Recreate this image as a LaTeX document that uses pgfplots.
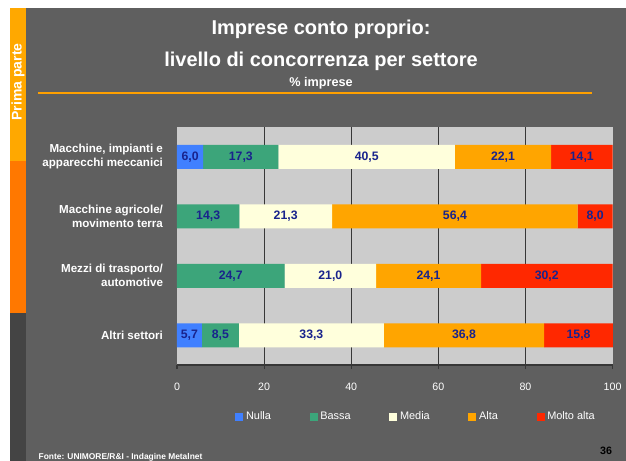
\documentclass[border=0pt]{standalone}
\usepackage{pgfplots}
\pgfplotsset{compat=1.18}
\usepackage{pgfplotstable}
\usepackage{fontspec}
\setmainfont{Liberation Sans}
\definecolor{slidebg}{RGB}{95,95,95}
\definecolor{stripA}{RGB}{255,168,0}
\definecolor{stripB}{RGB}{255,120,0}
\definecolor{stripC}{RGB}{68,68,68}
\definecolor{plotbg}{RGB}{204,204,204}
\definecolor{cNulla}{RGB}{64,128,255}
\definecolor{cBassa}{RGB}{60,165,122}
\definecolor{cMedia}{RGB}{255,255,220}
\definecolor{cAlta}{RGB}{255,165,0}
\definecolor{cMolto}{RGB}{255,40,0}
\definecolor{valblue}{RGB}{25,35,140}
\definecolor{linecol}{RGB}{255,160,0}
\definecolor{gridcol}{RGB}{55,55,55}

\pgfplotstableread{
y Nulla Bassa Media Alta Molto
0 6.0 17.3 40.5 22.1 14.1
1 0 14.3 21.3 56.4 8.0
2 0 24.7 21.0 24.1 30.2
3 5.7 8.5 33.3 36.8 15.8
}\data

\begin{document}
\begin{tikzpicture}[x=0.75pt,y=0.75pt]
\useasboundingbox (0,0) rectangle (626,461);
\fill[white] (0,0) rectangle (626,461);
\fill[slidebg] (26,0) rectangle (626,453);
\fill[stripA] (10,300) rectangle (26,453);
\fill[stripB] (10,148) rectangle (26,300);
\fill[stripC] (10,0) rectangle (26,148);
\node[rotate=90, text=white, font=\bfseries\fontsize{10.5}{12}\selectfont] at (18,379) {Prima parte};
\node[text=white, font=\bfseries\fontsize{15}{18}\selectfont] at (321,432) {Imprese conto proprio:};
\node[text=white, font=\bfseries\fontsize{15}{18}\selectfont] at (321,400) {livello di concorrenza per settore};
\node[text=white, font=\bfseries\fontsize{9.5}{11}\selectfont] at (321,378) {\% imprese};
\draw[linecol, line width=1.2pt] (38,368) -- (592,368);
\node[anchor=west, text=white, font=\bfseries\fontsize{6.3}{7}\selectfont] at (34,4) {Fonte: UNIMORE/R\&I - Indagine Metalnet};
\node[text=black, font=\bfseries\fontsize{8}{9}\selectfont] at (606,10) {36};

\begin{axis}[
  at={(132.75pt,72pt)}, anchor=south west,
  scale only axis, width=327pt, height=178.5pt,
  xbar stacked, bar width=18pt,
  xmin=0, xmax=100.1, ymin=-0.5, ymax=3.5, y dir=reverse,
  ytick={0,1,2,3},
  yticklabels={{Macchine, impianti e\\apparecchi meccanici},{Macchine agricole/\\movimento terra},{Mezzi di trasporto/\\automotive},{Altri settori}},
  yticklabel style={align=right, text=white, font=\bfseries\fontsize{8.7}{10.5}\selectfont, xshift=-4pt},
  ytick style={draw=none},
  xtick={0,20,40,60,80,100},
  xticklabel style={text=white, font=\fontsize{8}{9.6}\selectfont, yshift=-7pt},
  extra x ticks={20,40,60,80}, extra x tick labels={},
  extra x tick style={grid=major, major tick length=0pt},
  /pgf/number format/assume math mode=true,
  tick align=outside, major tick length=3pt,
  xtick style={draw=gridcol, line width=0.8pt},
  axis x line*=bottom, axis y line*=left,
  x axis line style={draw=gridcol, line width=0.8pt},
  y axis line style={draw=none},
  grid style={draw=gridcol, line width=0.7pt},
  axis background/.style={fill=plotbg},
  nodes near coords={\pgfmathfloatifflags{\pgfplotspointmeta}{0}{}{\pgfmathprintnumber{\pgfplotspointmeta}}},
  every node near coord/.append style={text=valblue, font=\bfseries\fontsize{9.2}{10}\selectfont,
    /pgf/number format/.cd, use comma, fixed, fixed zerofill, precision=1, assume math mode=true},
  legend columns=5,
  legend style={draw=none, fill=none, text=white, font=\fontsize{8.2}{10}\selectfont,
    at={(0.549,-0.2185)}, anchor=center,
    /tikz/every even column/.append style={column sep=27pt}},
  legend image code/.code={\fill[#1, draw=none] (0pt,-3pt) rectangle (6pt,3pt);},
]
\addplot[fill=cNulla, draw=none] table[x=Nulla, y=y, meta=Nulla, point meta=explicit] {\data};
\addplot[fill=cBassa, draw=none] table[x=Bassa, y=y, meta=Bassa] {\data};
\addplot[fill=cMedia, draw=none] table[x=Media, y=y, meta=Media] {\data};
\addplot[fill=cAlta, draw=none] table[x=Alta, y=y, meta=Alta] {\data};
\addplot[fill=cMolto, draw=none] table[x=Molto, y=y, meta=Molto] {\data};
\legend{Nulla, Bassa, Media, Alta, Molto alta}
\end{axis}
\end{tikzpicture}
\end{document}
